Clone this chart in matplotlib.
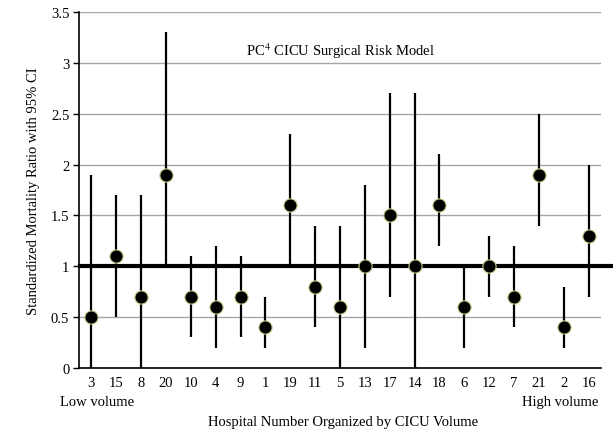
import matplotlib
matplotlib.use("Agg")
import matplotlib.pyplot as plt
import numpy as np

hospitals = ["3", "15", "8", "20", "10", "4", "9", "1", "19", "11", "5",
             "13", "17", "14", "18", "6", "12", "7", "21", "2", "16"]
smr   = [0.5, 1.1, 0.7, 1.9, 0.7, 0.6, 0.7, 0.4, 1.6, 0.8, 0.6,
         1.0, 1.5, 1.0, 1.6, 0.6, 1.0, 0.7, 1.9, 0.4, 1.3]
lower = [0.0, 0.5, 0.0, 1.0, 0.3, 0.2, 0.3, 0.2, 1.0, 0.4, 0.0,
         0.2, 0.7, 0.0, 1.2, 0.2, 0.7, 0.4, 1.4, 0.2, 0.7]
upper = [1.9, 1.7, 1.7, 3.3, 1.1, 1.2, 1.1, 0.7, 2.3, 1.4, 1.4,
         1.8, 2.7, 2.7, 2.1, 1.0, 1.3, 1.2, 2.5, 0.8, 2.0]
yticks = [0, 0.5, 1, 1.5, 2, 2.5, 3, 3.5]
ytick_labels = ["0", "0.5", "1", "1.5", "2", "2.5", "3", "3.5"]

plt.rcParams['font.family'] = ['Liberation Serif', 'DejaVu Serif']
plt.rcParams['mathtext.fontset'] = 'stix'
FS = 10.5

fig = plt.figure(figsize=(6.13, 4.35), dpi=100)
ax = fig.add_axes([79/613, 66/435, 522/613, 356/435])

x = np.arange(len(hospitals))
ax.set_xlim(-0.5, len(hospitals) - 0.5)
ax.set_ylim(0, 3.5)

ax.set_yticks(yticks)
ax.set_yticklabels(ytick_labels, fontsize=FS)
ax.yaxis.grid(True, color='#a6a6a6', linewidth=1.0)
ax.set_axisbelow(True)

ax.set_xticks(x)
ax.set_xticklabels(hospitals, fontsize=FS)
ax.tick_params(axis='x', length=0, pad=6)
ax.tick_params(axis='y', length=4, width=1, direction='out', pad=3)

for s in ['top', 'right']:
    ax.spines[s].set_visible(False)
ax.spines['left'].set_linewidth(1.2)
ax.spines['bottom'].set_linewidth(1.2)

# reference line at 1, extending past the axes to the right
ax.plot([-0.45, 20.95], [1, 1], color='black', linewidth=3, clip_on=False, zorder=2)

# CIs
ax.vlines(x, lower, upper, color='black', linewidth=1.6, zorder=3)
ax.plot(x, smr, linestyle='none', marker='o', markersize=9.5,
        markerfacecolor='black', markeredgecolor='#c4cc88', markeredgewidth=0.8, zorder=4)

ax.text(10, 3.12, "PC$^{4}$ CICU Surgical Risk Model", ha='center', va='center', fontsize=FS)

ax.set_ylabel("Standardized Mortality Ratio with 95% CI", fontsize=FS, labelpad=8)
fig.text(60/613, 1 - 403/435, "Low volume", ha='left', va='center', fontsize=FS)
fig.text(598/613, 1 - 403/435, "High volume", ha='right', va='center', fontsize=FS)
fig.text(343/613, 1 - 423/435, "Hospital Number Organized by CICU Volume",
         ha='center', va='center', fontsize=FS)

fig.savefig("out.png", dpi=100)
